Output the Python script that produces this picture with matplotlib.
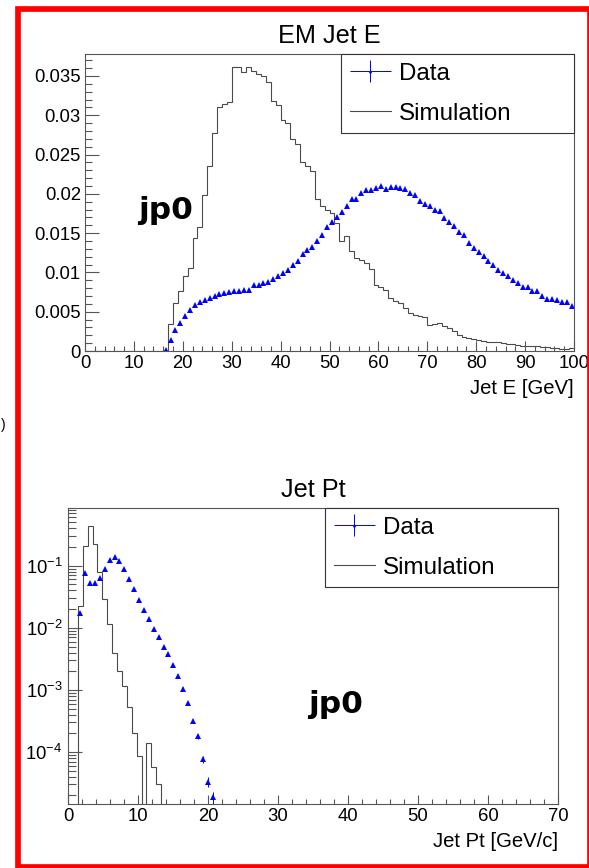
import numpy as np
import matplotlib
matplotlib.use("Agg")
import matplotlib.pyplot as plt
from matplotlib.patches import Rectangle
from matplotlib.lines import Line2D
from matplotlib.ticker import MultipleLocator, LogLocator, FuncFormatter, NullFormatter
from matplotlib.legend_handler import HandlerErrorbar

# ---------------- data ----------------
# EM Jet E : 100 bins of 1 GeV, 0-100
e_edges = np.arange(0, 101, 1)
e_sim = [
    0, 0, 0, 0, 0, 0, 0, 0, 0, 0,
    0, 0, 0, 0, 0, 0, 0, 0.0035, 0.0061, 0.0077,
    0.0095, 0.0106, 0.0144, 0.0158, 0.0199, 0.0235, 0.0277, 0.0311, 0.0314, 0.0317,
    0.0361, 0.0361, 0.0355, 0.0361, 0.0356, 0.0352, 0.0350, 0.0342, 0.0318, 0.0313,
    0.0294, 0.0290, 0.0270, 0.0263, 0.0240, 0.0236, 0.0229, 0.0193, 0.0185, 0.0179,
    0.0175, 0.0163, 0.0140, 0.0146, 0.0127, 0.0118, 0.0116, 0.0112, 0.0104, 0.0084,
    0.0081, 0.0078, 0.0067, 0.0064, 0.0061, 0.0055, 0.0048, 0.0046, 0.0045, 0.0043,
    0.0033, 0.0035, 0.0036, 0.0032, 0.0029, 0.0025, 0.0021, 0.0018, 0.0016, 0.0015,
    0.0014, 0.0013, 0.0012, 0.0012, 0.0011, 0.0010, 0.0009, 0.0009, 0.0008, 0.0007,
    0.0007, 0.0006, 0.0006, 0.0005, 0.0005, 0.0004, 0.0004, 0.0003, 0.0003, 0.0004,
]
e_data = [
    0.0001, 0.0014, 0.0027, 0.0036, 0.0045, 0.0052, 0.0058, 0.0063, 0.0065, 0.0068,
    0.0070, 0.0072, 0.0074, 0.0075, 0.0077, 0.0077, 0.0078, 0.0078, 0.0084, 0.0084,
    0.0086, 0.0088, 0.0092, 0.0095, 0.0099, 0.0103, 0.0109, 0.0114, 0.0124, 0.0128,
    0.0133, 0.0140, 0.0148, 0.0158, 0.0164, 0.0170, 0.0177, 0.0184, 0.0193, 0.0194,
    0.0201, 0.0205, 0.0205, 0.0207, 0.0210, 0.0206, 0.0209, 0.0209, 0.0207, 0.0206,
    0.0201, 0.0198, 0.0191, 0.0187, 0.0185, 0.0180, 0.0178, 0.0169, 0.0164, 0.0159,
    0.0152, 0.0148, 0.0138, 0.0131, 0.0126, 0.0121, 0.0114, 0.0110, 0.0103, 0.0099,
    0.0095, 0.0091, 0.0086, 0.0081, 0.0081, 0.0076, 0.0076, 0.0070, 0.0066, 0.0066,
    0.0065, 0.0063, 0.0062, 0.0057,
]
e_first_data_bin = 16

# Jet Pt : 100 bins of 0.7 GeV/c, 0-70
pt_edges = np.linspace(0, 70, 101)
pt_sim = [
    0, 0, 0.0225, 0.208, 0.438, 0.227, 0.0795, 0.0296, 0.0117, 0.0040,
    0.0020, 0.00115, 0.00054, 0.00020, 8.5e-5, 0, 1.4e-4, 5.7e-5, 3.0e-5, 0,
] + [0] * 80
pt_data = [
    0.0176, 0.0777, 0.0528, 0.0528, 0.0637, 0.0879, 0.1227, 0.139, 0.119, 0.0869,
    0.060, 0.0414, 0.0278, 0.0197, 0.0138, 0.0097, 0.0070, 0.0050, 0.0038, 0.0025,
    0.00166, 0.00104, 0.00061, 0.000314, 0.00018, 7.7e-5, 3.3e-5, 1.86e-5,
]
pt_data_err = [
    0.0003, 0.0006, 0.0005, 0.0005, 0.0005, 0.0006, 0.0007, 0.0008, 0.0007, 0.0006,
    0.0005, 0.0004, 0.0003, 0.0003, 0.0002, 0.0002, 0.0002, 0.00015, 0.00012, 0.0001,
    8e-5, 6e-5, 4e-5, 2.5e-5, 1.5e-5, 1e-5, 6e-6, 4e-6,
]
pt_first_data_bin = 2

# ---------------- style ----------------
plt.rcParams['font.family'] = ['Liberation Sans', 'DejaVu Sans']
plt.rcParams['mathtext.fontset'] = 'custom'
plt.rcParams['mathtext.rm'] = 'Liberation Sans'
plt.rcParams['mathtext.it'] = 'Liberation Sans:italic'
plt.rcParams['mathtext.bf'] = 'Liberation Sans:bold'

FRAME = '#555555'
SIMC = '#4a4a4a'
BLUE = '#0000ff'
TICKFS = 13.3
LEGFS = 17.4
TITLEFS = 18.2
LABELFS = 14.6

W, H = 589, 868
fig = plt.figure(figsize=(W / 100, H / 100), dpi=100)

def px_axes(l, t, r, b):
    return [l / W, 1 - b / H, (r - l) / W, (b - t) / H]

ax1 = fig.add_axes(px_axes(85, 54, 574, 351))
ax2 = fig.add_axes(px_axes(68, 508, 558, 804))

def style_axes(ax):
    for s in ax.spines.values():
        s.set_color(FRAME)
        s.set_linewidth(0.8)
    ax.tick_params(which='both', direction='in', top=False, right=False,
                   color=FRAME, width=0.8, labelsize=TICKFS, pad=3)

# ---------- upper panel ----------
e_centers = 0.5 * (e_edges[:-1] + e_edges[1:])
e_data_x = e_centers[e_first_data_bin:e_first_data_bin + len(e_data)]
ax1.stairs(e_sim, e_edges, baseline=None, color=SIMC, lw=0.8)
ax1.plot(e_data_x, e_data, linestyle='none', marker='^', color=BLUE, ms=4.0, mew=0)
ax1.set_xlim(0, 100)
ax1.set_ylim(0, 0.0378)
style_axes(ax1)
ax1.xaxis.set_major_locator(MultipleLocator(10))
ax1.xaxis.set_minor_locator(MultipleLocator(2))
ax1.yaxis.set_major_locator(MultipleLocator(0.005))
ax1.yaxis.set_minor_locator(MultipleLocator(0.001))
ax1.yaxis.set_major_formatter(FuncFormatter(lambda v, p: '%g' % round(v, 4)))
ax1.tick_params(axis='x', which='major', length=7.2)
ax1.tick_params(axis='x', which='minor', length=3.6)
ax1.tick_params(axis='y', which='major', length=10)
ax1.tick_params(axis='y', which='minor', length=5)
ax1.set_title('EM Jet E', fontsize=TITLEFS, pad=8)
ax1.set_xlabel('Jet E [GeV]', fontsize=LABELFS, loc='right', labelpad=5)
ax1.text(0.1084, 0.4428, 'jp0', transform=ax1.transAxes, fontsize=22.5,
         fontweight='bold', family='DejaVu Sans', ha='left', va='baseline')

# ---------- lower panel ----------
pt_centers = 0.5 * (pt_edges[:-1] + pt_edges[1:])
pt_data_x = pt_centers[pt_first_data_bin:pt_first_data_bin + len(pt_data)]
pt_sim_arr = np.asarray(pt_sim, dtype=float)
pt_sim_plot = np.where(pt_sim_arr > 0, pt_sim_arr, 1e-12)
ax2.set_yscale('log')
ax2.stairs(pt_sim_plot, pt_edges, baseline=None, color=SIMC, lw=0.8)
ax2.errorbar(pt_data_x, pt_data, yerr=pt_data_err, fmt='^', color=BLUE, ms=4.0,
             mew=0, elinewidth=0.7, capsize=0)
ax2.set_xlim(0, 70)
ax2.set_ylim(1.456e-5, 0.849)
style_axes(ax2)
ax2.xaxis.set_major_locator(MultipleLocator(10))
ax2.xaxis.set_minor_locator(MultipleLocator(2))
ax2.yaxis.set_major_locator(LogLocator(base=10, numticks=20))
ax2.yaxis.set_minor_locator(LogLocator(base=10, subs=np.arange(2, 10), numticks=20))
ax2.yaxis.set_minor_formatter(NullFormatter())
ax2.yaxis.set_major_formatter(FuncFormatter(
    lambda v, p: r'$\mathregular{10^{%d}}$' % int(round(np.log10(v)))))
ax2.tick_params(axis='x', which='major', length=6.7)
ax2.tick_params(axis='x', which='minor', length=3.6)
ax2.tick_params(axis='y', which='major', length=10, pad=4)
ax2.tick_params(axis='y', which='minor', length=5.5)
ax2.set_title('Jet Pt', fontsize=TITLEFS, pad=8)
ax2.set_xlabel('Jet Pt [GeV/c]', fontsize=LABELFS, loc='right', labelpad=5)
ax2.text(0.4898, 0.3084, 'jp0', transform=ax2.transAxes, fontsize=22.5,
         fontweight='bold', family='DejaVu Sans', ha='left', va='baseline')

# ---------- legends ----------
def add_legend(ax, x0_frac, hlen):
    eb = ax.errorbar([np.nan], [np.nan], xerr=[1], yerr=[1], fmt='^', color=BLUE,
                     ms=2.5, mew=0, elinewidth=0.7, capsize=0)
    sim_h = Line2D([], [], color=SIMC, lw=0.8)
    leg = ax.legend([eb, sim_h], ['Data', 'Simulation'],
                    loc='upper left', bbox_to_anchor=(x0_frac, 0, 1 - x0_frac, 1.0),
                    mode='expand', borderaxespad=0, fontsize=LEGFS, frameon=True,
                    fancybox=False, framealpha=1, edgecolor='#333333',
                    handlelength=hlen, handletextpad=0.33, borderpad=0.36,
                    labelspacing=0.74, numpoints=1,
                    handler_map={type(eb): HandlerErrorbar(xerr_size=0.85, yerr_size=0.45)})
    leg.get_frame().set_linewidth(0.8)
    return leg

add_legend(ax1, (341 - 85) / 489, 1.7)
add_legend(ax2, (325 - 68) / 490, 1.7)

# ---------- red frame ----------
fig.add_artist(Rectangle((18 / W, 1 - 867 / H), (590 - 18) / W, (867 - 9) / H,
                         transform=fig.transFigure, fill=False, ec='#ff0000',
                         lw=4.1, clip_on=False))
# small stray character at the far left edge
fig.text(0.5 / W, 1 - 425 / H, ')', fontsize=10, ha='left', va='center')

fig.savefig('out.png', dpi=100)
